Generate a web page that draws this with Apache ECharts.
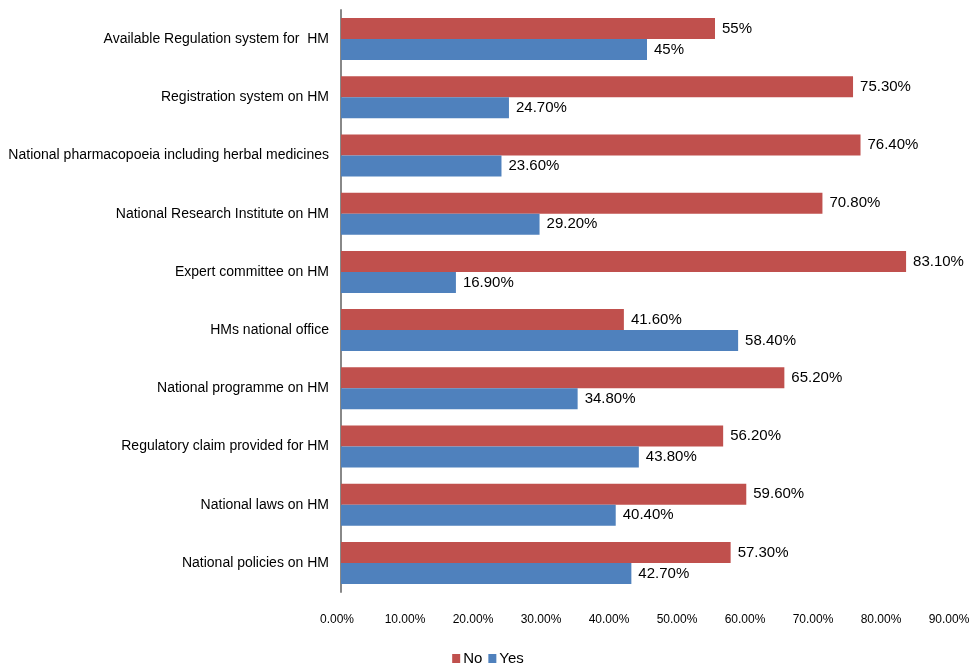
<!DOCTYPE html>
<html>
<head>
<meta charset="utf-8">
<script src="https://cdn.jsdelivr.net/npm/echarts@6/dist/echarts.min.js"></script>
<style>html,body{margin:0;padding:0;background:#fff}#c{width:976px;height:669px}</style>
</head>
<body>
<div id="c"></div>
<script>
var categories = ["Available Regulation system for  HM","Registration system on HM","National pharmacopoeia including herbal medicines","National Research Institute on HM","Expert committee on HM","HMs national office","National programme on HM","Regulatory claim provided for HM","National laws on HM","National policies on HM"];
var noValues = [55, 75.3, 76.4, 70.8, 83.1, 41.6, 65.2, 56.2, 59.6, 57.3];
var yesValues = [45, 24.7, 23.6, 29.2, 16.9, 58.4, 34.8, 43.8, 40.4, 42.7];
var noLabels = ["55%","75.30%","76.40%","70.80%","83.10%","41.60%","65.20%","56.20%","59.60%","57.30%"];
var yesLabels = ["45%","24.70%","23.60%","29.20%","16.90%","58.40%","34.80%","43.80%","40.40%","42.70%"];
var FONT = '"Liberation Sans",Arial,sans-serif';
var chart = echarts.init(document.getElementById('c'));
chart.setOption({
  animation:false,
  textStyle:{fontFamily:FONT},
  legend:{data:["No","Yes"],bottom:-2,left:'center',itemWidth:8,itemHeight:9,itemGap:6,icon:'rect',
    textStyle:{fontFamily:FONT,fontSize:15,color:'#000',padding:[0,0,0,-2]}},
  grid:{left:341,right:23,top:10,bottom:77,outerBoundsMode:'none',containLabel:false},
  xAxis:{type:'value',min:0,max:90,interval:10,
    axisLine:{show:false},axisTick:{show:false},splitLine:{show:false},
    axisLabel:{formatter:function(v){return v.toFixed(2)+'%';},fontFamily:FONT,fontSize:12,color:'#000',margin:22,padding:[0,8,0,0]}},
  yAxis:{type:'category',data:categories,inverse:true,
    axisLine:{show:true,lineStyle:{color:'#888',width:2}},axisTick:{show:false},
    axisLabel:{fontFamily:FONT,fontSize:14,color:'#000',margin:12}},
  series:[
    {name:'No',type:'bar',data:noValues,barWidth:21,barGap:'0%',barCategoryGap:'28%',
     itemStyle:{color:'#C0504D'},
     label:{show:true,position:'right',distance:7,fontFamily:FONT,fontSize:15,color:'#000',
       formatter:function(p){return noLabels[p.dataIndex];}}},
    {name:'Yes',type:'bar',data:yesValues,barWidth:21,barGap:'0%',
     itemStyle:{color:'#4F81BD'},
     label:{show:true,position:'right',distance:7,fontFamily:FONT,fontSize:15,color:'#000',
       formatter:function(p){return yesLabels[p.dataIndex];}}}
  ]
});
</script>
</body>
</html>
